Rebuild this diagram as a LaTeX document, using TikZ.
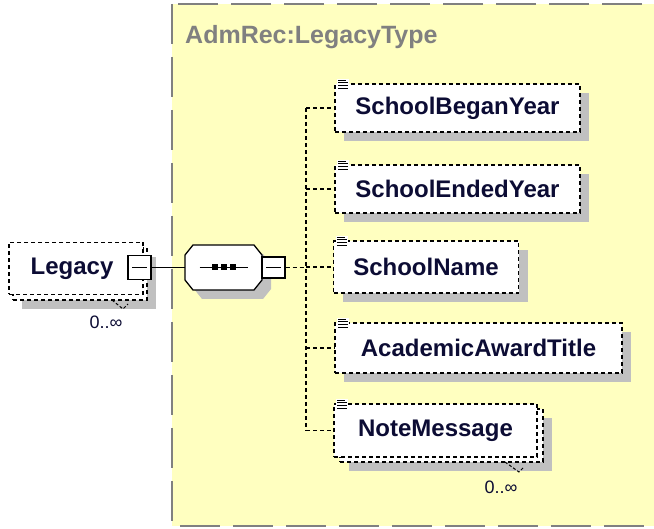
\documentclass[tikz,border=0pt]{standalone}
\usepackage{fontspec}
\setmainfont{Liberation Sans}
\usetikzlibrary{shadows}
\definecolor{bgyellow}{RGB}{255,255,192}
\definecolor{framegray}{RGB}{128,128,128}
\definecolor{shadowgray}{RGB}{192,192,192}
\definecolor{elemtext}{RGB}{12,12,52}
\definecolor{titlegray}{RGB}{128,128,128}
\begin{document}
\begin{tikzpicture}[x=1pt,y=-1pt,
  elbox/.style={draw=black, fill=white, line width=1.3pt, dash pattern=on 4pt off 3pt,
    inner sep=0pt, font=\fontsize{24}{28}\selectfont\bfseries, text=elemtext},
  elshadow/.style={general shadow={fill=shadowgray, shadow xshift=9pt, shadow yshift=-9pt}},
  occ/.style={font=\fontsize{18}{20}\selectfont, text=elemtext, inner sep=0pt},
  conn/.style={draw=black, line width=1.3pt, dash pattern=on 4pt off 3pt},
  hook/.style={draw=black, line width=1pt, dash pattern=on 3pt off 2pt},
  solidconn/.style={draw=black, line width=1.3pt},
  minusbox/.style={draw=black, fill=white, line width=1.3pt, inner sep=0pt,
    path picture={\draw[line width=1.3pt] ([xshift=4pt]path picture bounding box.west) -- ([xshift=-4pt]path picture bounding box.east);}},
]
\clip (0,0) rectangle (654,529);
\fill[white] (0,0) rectangle (654,529);

% complex type frame
\draw[fill=bgyellow, draw=framegray, line width=2pt, dash pattern=on 40pt off 13pt]
  (172,4) rectangle (680,526);
\node[anchor=west, inner sep=0pt, text=titlegray, font=\fontsize{25}{28}\selectfont\bfseries]
  (title) at (185,37) {AdmRec:LegacyType};

% Legacy element (multiple occurrence)
\node[elbox, elshadow, minimum width=134pt, minimum height=52pt] (legback) at (80,274) {};
\node[elbox, minimum width=134pt, minimum height=52pt] (leg) at (76,268.5) {};
\node[inner sep=0pt, font=\fontsize{24}{28}\selectfont\bfseries, text=elemtext] (legtext) at (72,268.5) {Legacy};
\node[minusbox, minimum width=23pt, minimum height=24pt] (legminus) at (139.5,267.5) {};
\node[occ] (legocc) at (106,322) {0..∞};
\draw[hook] (112,300) -- (123,309) -- (128,304);

% sequence compositor (octagon with shadow)
\fill[shadowgray] (202,254) -- (263,254) -- (271,264) -- (271,289) -- (263,299) -- (202,299) -- (194,289) -- (194,264) -- cycle;
\draw[fill=white, line width=1.3pt] (193,245) -- (254,245) -- (262,255) -- (262,280) -- (254,290) -- (193,290) -- (185,280) -- (185,255) -- cycle;
\node[minimum width=77pt, minimum height=45pt, inner sep=0pt] (seq) at (223.5,267.5) {};
\draw[line width=1.3pt] ([xshift=-24pt]seq.center) -- ([xshift=24pt]seq.center);
\foreach \dx in {-9,0,9} \fill[black] ([xshift=\dx pt]seq.center) ++(-3,-3) rectangle ++(6,6);
\node[minusbox, minimum width=23pt, minimum height=21pt] (seqminus) at (273.5,267.5) {};

\draw[solidconn] (legminus.east) -- (seq.west);

% child elements
\node[elbox, elshadow, minimum width=245pt, minimum height=48pt] (sby) at (457.5,108) {SchoolBeganYear};
\node[elbox, elshadow, minimum width=245pt, minimum height=48pt] (sey) at (457.5,189) {SchoolEndedYear};
\node[elbox, elshadow, minimum width=185pt, minimum height=52pt] (sn) at (426,267) {SchoolName};
\node[elbox, elshadow, minimum width=287pt, minimum height=50pt] (aat) at (478.5,348) {AcademicAwardTitle};
\node[elbox, elshadow, minimum width=203pt, minimum height=53pt] (nmback) at (441.5,435.5) {};
\node[elbox, minimum width=203pt, minimum height=53pt] (nm) at (435.5,430.5) {NoteMessage};
\node[occ] (nmocc) at (501,487) {0..∞};
\draw[hook] (505,462) -- (519,472) -- (524,467);

% icons
\foreach \n in {sby,sey,sn,aat,nm}{
  \fill[white] ([shift={(3,-4)}]\n.north west) rectangle ([shift={(15,6)}]\n.north west);
  \foreach \d/\w in {-3/8,-0.4/10,2.2/10,4.8/10}
    \draw[line width=1pt] ([shift={(4,\d)}]\n.north west) -- ++(\w,0);
}

% connectors
\coordinate (trunk) at (306,267.5);
\draw[conn] (seqminus.east) -- (trunk);
\draw[conn] (trunk |- sby.west) -- (trunk |- nm.west);
\foreach \n in {sby,sey,sn,aat,nm} \draw[conn] (trunk |- \n.west) -- (\n.west);
\end{tikzpicture}
\end{document}
